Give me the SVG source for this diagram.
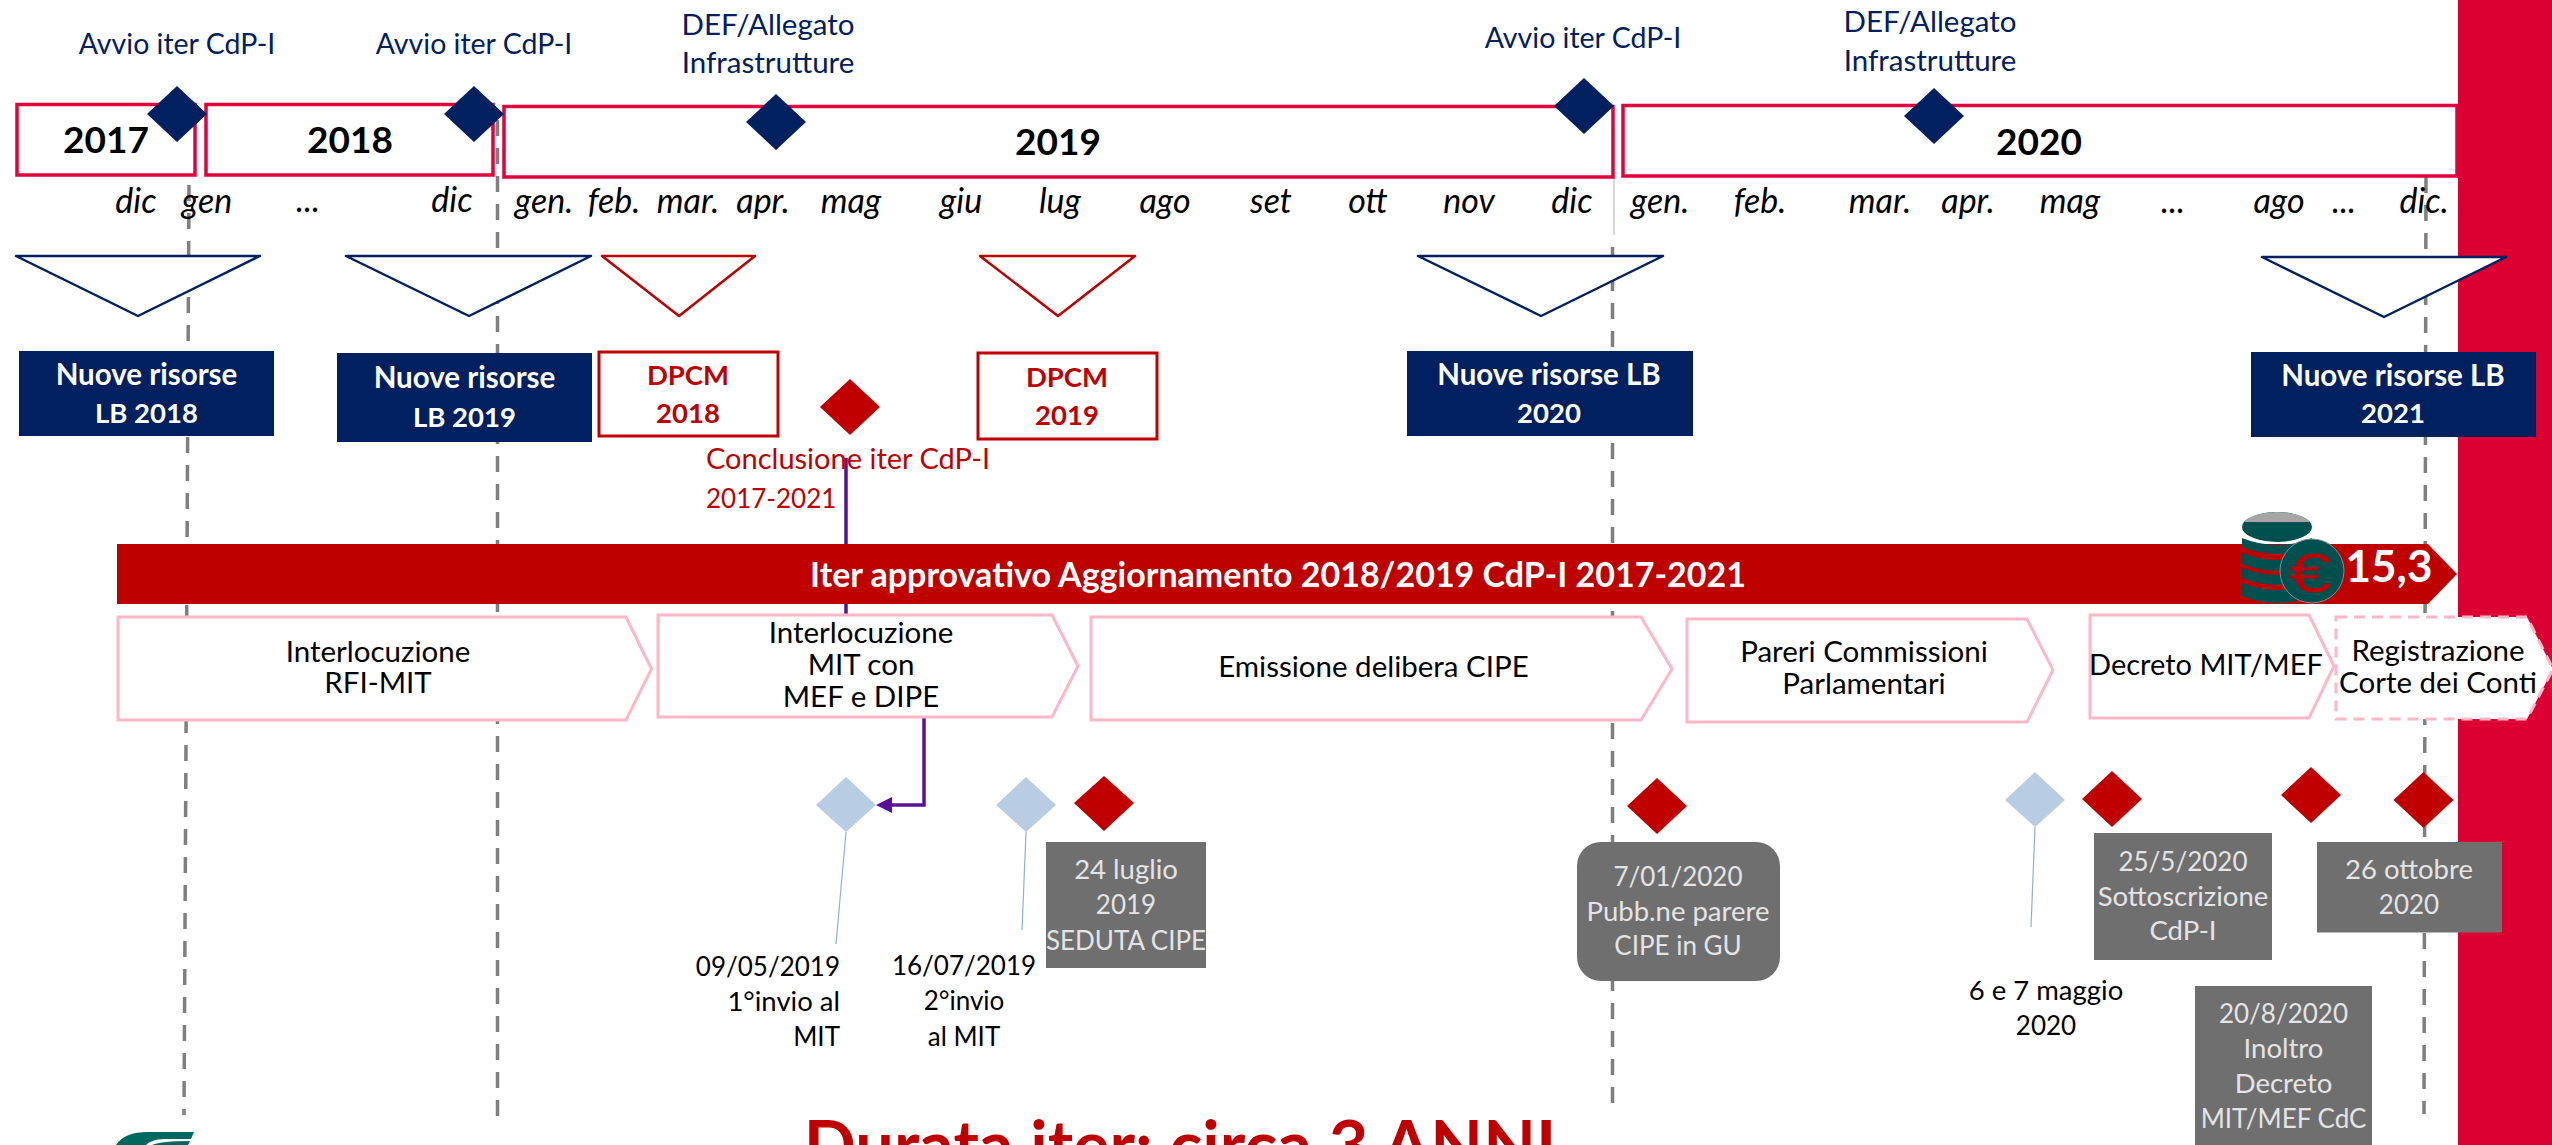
<svg xmlns="http://www.w3.org/2000/svg" width="2552" height="1145" viewBox="0 0 2552 1145">
<defs>
<style>
text{font-family:Lato,"Open Sans",sans-serif;text-anchor:middle}
.navy{fill:#002060}.red{fill:#C00000}.lb{fill:#B8CCE4}
.year{fill:#fff;stroke:#E4003A;stroke-width:3.5}
.yt{font-size:37px;font-weight:700;fill:#000}
.ml{font-size:28.5px;fill:#002060}
.mw{font-size:29.5px;fill:#002060}
.cr{font-size:29px;fill:#C00000;text-anchor:start}
.mo{font-size:34px;font-style:italic;fill:#000}
.tn{fill:#fff;stroke:#002060;stroke-width:2.5;stroke-linejoin:round}
.tr{fill:#fff;stroke:#C00000;stroke-width:2.5;stroke-linejoin:round}
.wb{font-size:29.5px;font-weight:700;fill:#fff}
.wn{font-size:27.5px;font-weight:700;fill:#fff}
.rb{font-size:27.5px;font-weight:700;fill:#C00000}
.dp{fill:#fff;stroke:#C00000;stroke-width:3}
.ch{fill:#fff;stroke:#FFB6C8;stroke-width:3}
.ct{font-size:29.5px;fill:#000}
.bt{font-size:26px;fill:#000}
.bl{font-size:27.500px;fill:#000}
.gb{fill:#6F6F70}
.gt{font-size:27.500px;fill:#E4E4E4}
.gn{font-size:26px;fill:#E4E4E4}
.dash{fill:none;stroke:#7F7F7F;stroke-width:3.5;stroke-dasharray:16 12}
.pur{fill:none;stroke:#5A0F9B;stroke-width:3.5}
.lead{fill:none;stroke:#8DB0DC;stroke-width:1.2}
</style>
<marker id="arr" markerUnits="userSpaceOnUse" markerWidth="16" markerHeight="16" refX="2" refY="8" orient="auto"><path d="M16 8L0 0V16Z" fill="#5A0F9B"/></marker>
</defs>
<rect width="2552" height="1145" fill="#fff"/>
<rect id="side-band" x="2458" y="0" width="94" height="1145" fill="#DC0032"/>

<g id="connectors">
<path class="dash" d="M189 185L184 1115"/>
<path class="dash" d="M497.500 120V1127"/>
<path d="M1614 178V235" fill="none" stroke="#BBBBBB" stroke-width="1.200"/>
<path class="dash" d="M1612.500 247V1103"/>
<path class="dash" d="M2426 177L2424 1114"/>
<path class="pur" d="M846 458V618"/>
<path class="pur" d="M924 718V805H890" marker-end="url(#arr)"/>
<path class="lead" d="M846 832L836 944"/>
<path class="lead" d="M1026 832L1022 930"/>
<path class="lead" d="M2035 827L2031 927"/>
</g>

<g id="y2017"><rect class="year" x="17" y="104.500" width="178" height="70.500"/><text class="yt" x="106" y="153">2017</text></g>
<g id="y2018"><rect class="year" x="206" y="104.500" width="287" height="70.500"/><text class="yt" x="350" y="153">2018</text></g>
<g id="y2019"><rect class="year" x="504" y="106.500" width="1109" height="70.500"/><text class="yt" x="1058" y="155">2019</text></g>
<g id="y2020"><rect class="year" x="1623" y="105.500" width="834" height="70.500"/><text class="yt" x="2039" y="155">2020</text></g>

<g id="m1"><path class="navy" d="M177 86L207 114L177 142L147 114Z"/><text class="ml" x="177" y="54">Avvio iter CdP-I</text></g>
<g id="m2"><path class="navy" d="M474 86L504 114L474 142L444 114Z"/><text class="ml" x="474" y="54">Avvio iter CdP-I</text></g>
<g id="m3"><path class="navy" d="M776 94L806 122L776 150L746 122Z"/><text class="mw" x="768" y="35">DEF/Allegato</text><text class="mw" x="768" y="73">Infrastrutture</text></g>
<g id="m4"><path class="navy" d="M1584 78L1614 106L1584 134L1554 106Z"/><text class="ml" x="1583" y="48">Avvio iter CdP-I</text></g>
<g id="m5"><path class="navy" d="M1934 88L1964 116L1934 144L1904 116Z"/><text class="mw" x="1930" y="32">DEF/Allegato</text><text class="mw" x="1930" y="71">Infrastrutture</text></g>

<g id="months">
<text class="mo" x="136" y="213">dic</text>
<text class="mo" x="207" y="213">gen</text>
<text class="mo" x="308" y="212">...</text>
<text class="mo" x="452" y="212">dic</text>
<text class="mo" x="544" y="213">gen.</text>
<text class="mo" x="614" y="213">feb.</text>
<text class="mo" x="688" y="213">mar.</text>
<text class="mo" x="763" y="213">apr.</text>
<text class="mo" x="851" y="213">mag</text>
<text class="mo" x="961" y="213">giu</text>
<text class="mo" x="1060" y="213">lug</text>
<text class="mo" x="1165" y="213">ago</text>
<text class="mo" x="1271" y="213">set</text>
<text class="mo" x="1368" y="213">ott</text>
<text class="mo" x="1469" y="213">nov</text>
<text class="mo" x="1572" y="213">dic</text>
<text class="mo" x="1660" y="213">gen.</text>
<text class="mo" x="1760" y="213">feb.</text>
<text class="mo" x="1880" y="213">mar.</text>
<text class="mo" x="1968" y="213">apr.</text>
<text class="mo" x="2070" y="213">mag</text>
<text class="mo" x="2173" y="213">...</text>
<text class="mo" x="2279" y="213">ago</text>
<text class="mo" x="2344" y="213">...</text>
<text class="mo" x="2424" y="213">dic.</text>
</g>

<g id="t1"><path class="tn" d="M16 256H260L138 316Z"/></g>
<g id="t2"><path class="tn" d="M346 256H591L469 316Z"/></g>
<g id="t3"><path class="tr" d="M602 256H755L679 316Z"/></g>
<g id="t4"><path class="tr" d="M980 256H1135L1058 316Z"/></g>
<g id="t5"><path class="tn" d="M1418 256H1663L1541 316Z"/></g>
<g id="t6"><path class="tn" d="M2262 257H2506L2384 317Z"/></g>

<g id="lb2018"><rect class="navy" x="19" y="351" width="255" height="85"/><text class="wb" x="146.500" y="385">Nuove risorse</text><text class="wn" x="146.500" y="423">LB 2018</text></g>
<g id="lb2019"><rect class="navy" x="337" y="353" width="255" height="89"/><text class="wb" x="464.500" y="388">Nuove risorse</text><text class="wn" x="464.500" y="427">LB 2019</text></g>
<g id="dpcm2018"><rect class="dp" x="599" y="352" width="179" height="84"/><text class="rb" x="688" y="385">DPCM</text><text class="rb" x="688" y="423">2018</text></g>
<g id="dpcm2019"><rect class="dp" x="978" y="353" width="179" height="86"/><text class="rb" x="1067" y="387">DPCM</text><text class="rb" x="1067" y="425">2019</text></g>
<g id="lb2020"><rect class="navy" x="1407" y="351" width="286" height="85"/><text class="wb" x="1549" y="385">Nuove risorse LB</text><text class="wn" x="1549" y="423">2020</text></g>
<g id="lb2021"><rect class="navy" x="2251" y="352" width="285" height="85"/><text class="wb" x="2393" y="386">Nuove risorse LB</text><text class="wn" x="2393" y="423">2021</text></g>

<g id="conclusione"><path class="red" d="M850 379L880 407L850 435L820 407Z"/><text class="cr" x="706" y="469">Conclusione iter CdP-I</text><text class="cr" style="font-size:26px" x="706" y="508">2017-2021</text></g>

<g id="banner"><path d="M117 544H2428L2457 574L2428 604H117Z" fill="#BE0000"/><text x="1278" y="587" font-size="34" font-weight="700" fill="#fff">Iter approvativo Aggiornamento 2018/2019 CdP-I 2017-2021</text><text x="2389" y="582" font-size="44" font-weight="700" fill="#fff">15,3</text></g>

<g id="coins">
<ellipse cx="2277" cy="527" rx="35" ry="15" fill="#00504F"/>
<path d="M2244 522A35 15 0 0 1 2310 522Z" fill="#A6A6A6"/>
<path d="M2242 538Q2277 552 2312 538V547Q2277 561 2242 547Z" fill="#00504F"/>
<path d="M2242 553Q2277 567 2312 553V564Q2277 578 2242 564Z" fill="#00504F"/>
<path d="M2242 568Q2277 582 2312 568V578Q2277 592 2242 578Z" fill="#00504F"/>
<path d="M2242 583Q2277 597 2312 583V596Q2277 610 2242 596Z" fill="#00504F"/>
<circle cx="2312" cy="571" r="32" fill="#00504F" stroke="#7F8F8F" stroke-width="1"/>
<text x="2310" y="592" font-size="56" style="font-family:'Liberation Sans',sans-serif" fill="#BE0000" textLength="43" lengthAdjust="spacingAndGlyphs">€</text>
</g>

<g id="c1"><path class="ch" d="M118 617H626L651.500 669L626 720H118Z"/><text class="ct" x="378" y="661.500">Interlocuzione</text><text class="ct" x="378" y="692.500">RFI-MIT</text></g>
<g id="c2"><path class="ch" d="M658 615H1052L1078 666L1052 717H658Z"/><text class="ct" x="861" y="643">Interlocuzione</text><text class="ct" x="861" y="675">MIT con</text><text class="ct" x="861" y="706.500">MEF e DIPE</text></g>
<g id="c3"><path class="ch" d="M1091 617H1641L1672 669L1641 720H1091Z"/><text class="ct" x="1373.500" y="677">Emissione delibera CIPE</text></g>
<g id="c4"><path class="ch" d="M1687 619H2027L2053 670L2027 722H1687Z"/><text class="ct" x="1864" y="662">Pareri Commissioni</text><text class="ct" x="1864" y="694">Parlamentari</text></g>
<g id="c5"><path class="ch" d="M2090 615H2309L2334 666L2309 718H2090Z"/><text class="ct" style="font-size:29px" x="2206" y="675">Decreto MIT/MEF</text></g>
<g id="c6"><path class="ch" stroke-dasharray="11 7" d="M2336 617H2527L2553 669L2527 719H2336Z"/><text class="ct" x="2438" y="661">Registrazione</text><text class="ct" x="2438" y="692.500">Corte dei Conti</text></g>

<g id="s1"><path class="lb" d="M846 777L876 805L846 832L816 805Z"/><text class="bt" style="text-anchor:end" x="840" y="976">09/05/2019</text><text class="bl" style="text-anchor:end" x="840" y="1011">1°invio al</text><text class="bt" style="text-anchor:end" x="840" y="1046">MIT</text></g>
<g id="s2"><path class="lb" d="M1026 777L1056 805L1026 832L996 805Z"/><text class="bt" x="964" y="975">16/07/2019</text><text class="bt" x="964" y="1010">2°invio</text><text class="bt" x="964" y="1046">al MIT</text></g>
<g id="s3"><path class="lb" d="M2035 772L2065 800L2035 827L2005 800Z"/><text class="bl" x="2046" y="1000">6 e 7 maggio</text><text class="bt" x="2046" y="1035">2020</text></g>

<g id="e1"><path class="red" d="M1104 776L1134 803L1104 831L1074 803Z"/><rect class="gb" x="1046" y="842" width="160" height="126"/><text class="gt" x="1126" y="879">24 luglio</text><text class="gn" x="1126" y="914">2019</text><text class="gn" x="1126" y="950">SEDUTA CIPE</text></g>
<g id="e2"><path class="red" d="M1657 778L1687 806L1657 834L1627 806Z"/><rect class="gb" x="1577" y="842" width="203" height="139" rx="24"/><text class="gn" x="1678" y="885.500">7/01/2020</text><text class="gt" x="1678" y="920.500">Pubb.ne parere</text><text class="gn" x="1678" y="955">CIPE in GU</text></g>
<g id="e3"><path class="red" d="M2112 771L2142 799L2112 827L2082 799Z"/><rect class="gb" x="2094" y="833" width="178" height="127"/><text class="gn" x="2183" y="871">25/5/2020</text><text class="gt" x="2183" y="906">Sottoscrizione</text><text class="gt" x="2183" y="940">CdP-I</text></g>
<g id="e4"><path class="red" d="M2311 767L2341 795L2311 823L2281 795Z"/><rect class="gb" x="2195" y="986" width="177" height="159"/><text class="gn" x="2283.500" y="1023">20/8/2020</text><text class="gt" x="2283.500" y="1058">Inoltro</text><text class="gt" x="2283.500" y="1093">Decreto</text><text class="gn" x="2283.500" y="1128">MIT/MEF CdC</text></g>
<g id="e5"><path class="red" d="M2423.500 772L2453.500 800L2423.500 828L2393.500 800Z"/><rect class="gb" x="2317" y="842" width="185" height="90.500"/><text class="gt" x="2409" y="879">26 ottobre</text><text class="gn" x="2409" y="914">2020</text></g>

<text id="durata" x="1180" y="1170" font-size="68.500" font-weight="700" fill="#C00000">Durata iter: circa 3 ANNI</text>
<g id="logo"><path d="M116 1145C122 1136 132 1132 148 1132H194L191 1139H165C155 1139 149 1142 146 1145Z" fill="#00695F"/><path d="M152 1145Q162 1141 190 1141L188 1145Z" fill="#00695F"/></g>
</svg>
